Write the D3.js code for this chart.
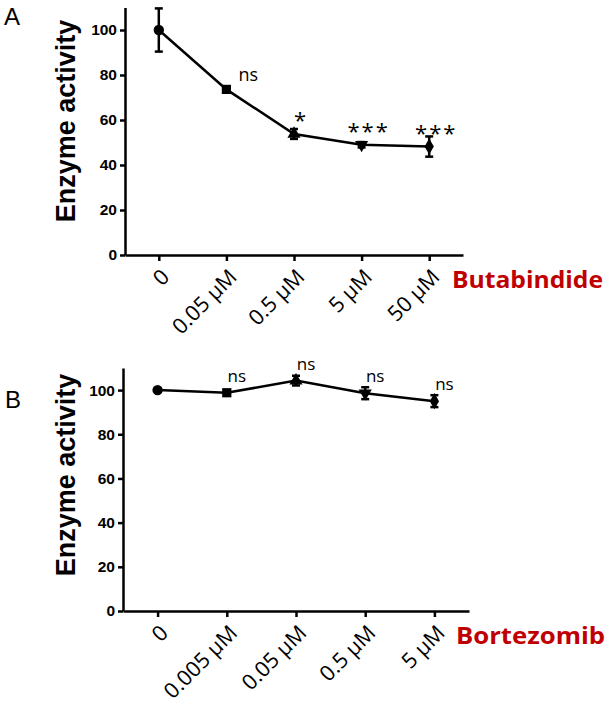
<!DOCTYPE html>
<html>
<head>
<meta charset="utf-8">
<script src="https://cdn.jsdelivr.net/npm/d3@7"></script>
<style>
  body { margin: 0; background: #fff; }
  svg { display: block; }
</style>
</head>
<body>
<svg id="chart" width="609" height="711"></svg>
<script>
// data
const yTicks = [0, 20, 40, 60, 80, 100];

const butaDoses = ["0", "0.05 µM", "0.5 µM", "5 µM", "50 µM"];
const butaMean = [100, 73.6, 53.8, 49.0, 48.2];
const butaErr = [9.6, 1.3, 2.2, 1.2, 4.5];
const butaSig = ["", "ns", "*", "***", "***"];

const bortDoses = ["0", "0.005 µM", "0.05 µM", "0.5 µM", "5 µM"];
const bortMean = [100, 98.8, 104.3, 98.6, 95.0];
const bortErr = [0.6, 1.2, 2.2, 2.7, 2.7];
const bortSig = ["", "ns", "ns", "ns", "ns"];

const markerShapes = [d3.symbolCircle, d3.symbolSquare, d3.symbolTriangle, "tri-down", d3.symbolDiamond];

const svg = d3.select("#chart");
svg.append("rect").attr("width", 609).attr("height", 711).attr("fill", "#fff");

function drawPanel(opt) {
  const g = svg.append("g");

  const x = d3.scalePoint()
    .domain(opt.doses)
    .range([opt.left, opt.right])
    .padding(0.5);

  const y = d3.scaleLinear()
    .domain([0, 110])
    .range([opt.bottom, opt.top]);

  // y axis
  const yAxis = g.append("g")
    .attr("transform", `translate(${opt.left},0)`)
    .call(d3.axisLeft(y).tickValues(yTicks).tickSize(5).tickSizeOuter(0).tickPadding(3));
  yAxis.select(".domain").attr("stroke", "#000").attr("stroke-width", 2.5);
  yAxis.selectAll(".tick line").attr("stroke", "#000").attr("stroke-width", 2.5);
  yAxis.selectAll("text")
    .attr("fill", "#000")
    .attr("font-family", "'Liberation Sans', Arial, sans-serif")
    .attr("font-weight", "bold")
    .attr("font-size", "15.5px");

  // x axis
  const xAxis = g.append("g")
    .attr("transform", `translate(0,${opt.bottom})`)
    .call(d3.axisBottom(x).tickSize(6).tickSizeOuter(0));
  xAxis.select(".domain").attr("stroke", "#000").attr("stroke-width", 2.5);
  xAxis.selectAll(".tick line").attr("stroke", "#000").attr("stroke-width", 2.5);
  xAxis.selectAll("text")
    .attr("fill", "#000")
    .attr("font-family", "'Open Sans', sans-serif")
    .attr("font-size", "21.5px")
    .attr("text-anchor", "end")
    .attr("x", 0).attr("y", 0).attr("dy", "0.35em")
    .attr("transform", "translate(6,18) rotate(-45)");

  // drug name
  g.append("text")
    .attr("x", opt.drugX)
    .attr("y", opt.bottom + 33)
    .attr("fill", "#c00000")
    .attr("font-family", "'Open Sans', sans-serif")
    .attr("font-weight", "bold")
    .attr("font-size", "24px")
    .attr("textLength", opt.drugW)
    .attr("lengthAdjust", "spacingAndGlyphs")
    .text(opt.drug);

  // y title
  g.append("text")
    .attr("transform", `translate(${opt.titleX},${opt.titleY}) rotate(-90)`)
    .attr("text-anchor", "middle")
    .attr("fill", "#000")
    .attr("font-family", "'Liberation Sans', Arial, sans-serif")
    .attr("font-weight", "bold")
    .attr("font-size", "27px")
    .text("Enzyme activity");

  // panel letter
  g.append("text")
    .attr("x", opt.letterX)
    .attr("y", opt.letterY)
    .attr("fill", "#000")
    .attr("font-family", "'Liberation Sans', Arial, sans-serif")
    .attr("font-size", "24px")
    .text(opt.letter);

  const pts = opt.doses.map((d, i) => ({ dose: d, mean: opt.mean[i], err: opt.err[i], sig: opt.sig[i], i }));

  // connecting line
  g.append("path")
    .datum(pts)
    .attr("fill", "none")
    .attr("stroke", "#000")
    .attr("stroke-width", 2.5)
    .attr("d", d3.line().x(d => x(d.dose)).y(d => y(d.mean)));

  // error bars
  const eb = g.selectAll(".eb").data(pts).join("g").attr("class", "eb");
  eb.append("line")
    .attr("x1", d => x(d.dose)).attr("x2", d => x(d.dose))
    .attr("y1", d => y(d.mean - d.err)).attr("y2", d => y(d.mean + d.err))
    .attr("stroke", "#000").attr("stroke-width", 2.5);
  [-1, 1].forEach(s => {
    eb.append("line")
      .attr("x1", d => x(d.dose) - 4).attr("x2", d => x(d.dose) + 4)
      .attr("y1", d => y(d.mean + s * d.err)).attr("y2", d => y(d.mean + s * d.err))
      .attr("stroke", "#000").attr("stroke-width", 2.5);
  });

  // markers
  g.selectAll(".mk").data(pts).join("path")
    .attr("class", "mk")
    .attr("transform", d => {
      const flip = markerShapes[d.i] === "tri-down" ? " rotate(180)" : "";
      return `translate(${x(d.dose)},${y(d.mean)})${flip}`;
    })
    .attr("d", d => {
      const shp = markerShapes[d.i] === "tri-down" ? d3.symbolTriangle : markerShapes[d.i];
      const size = shp === d3.symbolCircle ? 85 : shp === d3.symbolSquare ? 85 : 75;
      return d3.symbol().type(shp).size(size)();
    })
    .attr("fill", "#000");

  // significance labels
  g.selectAll(".sig").data(pts.filter(d => d.sig)).join("text")
    .attr("class", "sig")
    .attr("x", d => x(d.dose) + (d.sig === "ns" ? opt.nsDx : 7))
    .attr("y", d => d.sig === "ns" ? y(d.mean) - opt.nsDy : y(d.mean) - 6)
    .attr("text-anchor", "middle")
    .attr("fill", "#000")
    .attr("font-family", "'Open Sans', sans-serif")
    .attr("font-size", d => d.sig === "ns" ? opt.nsSize : "22px")
    .attr("letter-spacing", d => d.sig === "ns" ? 0 : "2px")
    .text(d => d.sig);
}

drawPanel({
  doses: butaDoses, mean: butaMean, err: butaErr, sig: butaSig,
  drug: "Butabindide", letter: "A",
  left: 125, right: 463, top: 7.5, bottom: 255,
  drugX: 452, drugW: 151,
  titleX: 75, titleY: 121, letterX: 4, letterY: 25,
  nsDx: 22, nsDy: 8, nsSize: "18px"
});

drawPanel({
  doses: bortDoses, mean: bortMean, err: bortErr, sig: bortSig,
  drug: "Bortezomib", letter: "B",
  left: 123, right: 469, top: 368, bottom: 611,
  drugX: 456, drugW: 149,
  titleX: 75, titleY: 475, letterX: 5, letterY: 408,
  nsDx: 10, nsDy: 11, nsSize: "17px"
});
</script>
</body>
</html>
